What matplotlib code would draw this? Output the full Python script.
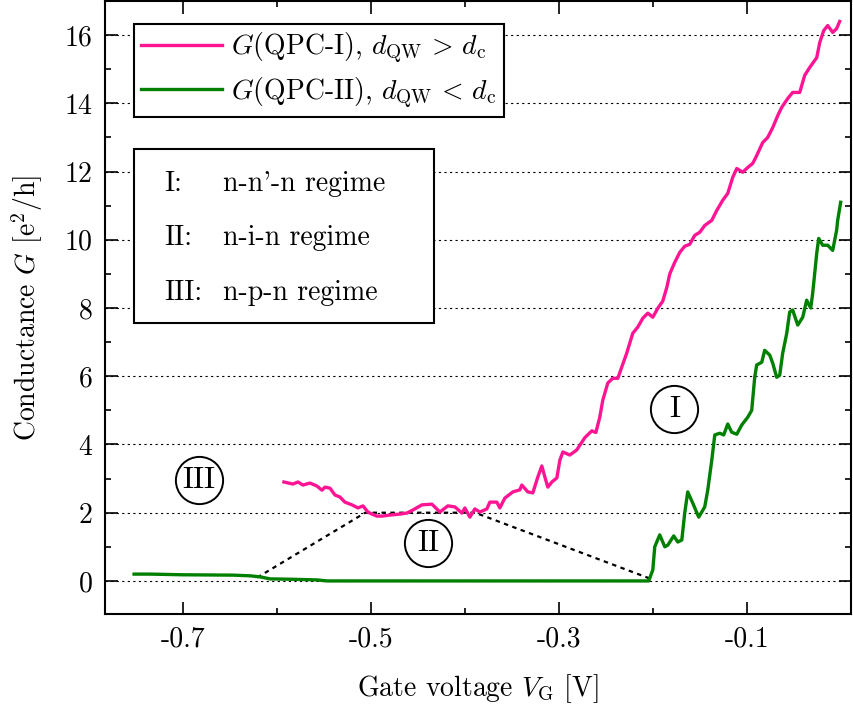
import matplotlib
matplotlib.use("Agg")
import matplotlib.pyplot as plt
from matplotlib.ticker import FixedLocator, FixedFormatter
from matplotlib.patches import Rectangle

plt.rcParams['font.family'] = 'serif'
plt.rcParams['font.serif'] = ['cmr10', 'DejaVu Serif']
plt.rcParams['mathtext.fontset'] = 'cm'
plt.rcParams['axes.unicode_minus'] = False

# QPC-I (pink)
vg_1 = [-0.5926, -0.583, -0.5777, -0.5723, -0.5649, -0.5574, -0.5521, -0.5489, -0.5436, -0.5383,
        -0.5330, -0.5277, -0.5202, -0.5138, -0.5085, -0.5032, -0.4989, -0.4936, -0.4883, -0.4798,
        -0.4691, -0.4617, -0.4553, -0.4457, -0.4351, -0.4266, -0.4181, -0.4106, -0.4032, -0.4000,
        -0.3947, -0.3894, -0.3840, -0.3766, -0.3734, -0.3660, -0.3628, -0.3574, -0.3489, -0.3415,
        -0.3394, -0.3330, -0.3277, -0.3223, -0.3181, -0.3149, -0.3117, -0.3074, -0.3021, -0.2989,
        -0.2957, -0.2883, -0.2809, -0.2723, -0.2649, -0.2606, -0.2564, -0.2532, -0.2479, -0.2426,
        -0.2372, -0.2330, -0.2277, -0.2213, -0.2160, -0.2106, -0.2053, -0.2000, -0.1947, -0.1894,
        -0.1851, -0.1819, -0.1766, -0.1713, -0.1660, -0.1606, -0.1553, -0.1500, -0.1447, -0.1372,
        -0.1319, -0.1255, -0.1202, -0.1149, -0.1106, -0.1043, -0.0989, -0.0936, -0.0894, -0.0830,
        -0.0777, -0.0723, -0.0670, -0.0628, -0.0564, -0.0511, -0.0436, -0.0383, -0.0330, -0.0255,
        -0.0223, -0.0181, -0.0138, -0.0085, -0.0043, -0.0011]
g_1 = [2.90, 2.84, 2.90, 2.81, 2.87, 2.78, 2.66, 2.75, 2.72, 2.52,
       2.46, 2.31, 2.23, 2.14, 2.20, 2.02, 1.96, 1.90, 1.90, 1.93,
       1.96, 1.99, 2.08, 2.23, 2.25, 2.02, 2.20, 2.17, 1.99, 2.14,
       1.87, 2.11, 2.02, 2.11, 2.31, 2.31, 2.14, 2.43, 2.61, 2.67,
       2.81, 2.61, 2.58, 3.05, 3.37, 3.05, 2.75, 2.90, 3.02, 3.54,
       3.78, 3.69, 3.84, 4.20, 4.40, 4.35, 4.80, 5.30, 5.80, 5.94,
       5.94, 6.27, 6.68, 7.26, 7.44, 7.70, 7.85, 7.73, 7.99, 8.20,
       8.60, 9.00, 9.34, 9.63, 9.81, 9.87, 10.13, 10.22, 10.42, 10.57,
       10.86, 11.16, 11.36, 11.83, 12.09, 11.98, 12.12, 12.24, 12.47, 12.85,
       13.00, 13.29, 13.64, 13.88, 14.14, 14.32, 14.32, 14.82, 15.05, 15.34,
       15.78, 16.13, 16.28, 16.08, 16.19, 16.40]

# QPC-II (green)
vg_2 = [-0.7521, -0.7351, -0.7000, -0.6468, -0.6287, -0.6181, -0.6074, -0.5862, -0.5574, -0.5468,
        -0.2043, -0.2000, -0.1979, -0.1926, -0.1872, -0.1840, -0.1777, -0.1734, -0.1691, -0.1660,
        -0.1628, -0.1574, -0.1511, -0.1447, -0.1415, -0.1372, -0.1340, -0.1287, -0.1245, -0.1202,
        -0.1160, -0.1106, -0.1053, -0.0989, -0.0947, -0.0915, -0.0894, -0.0840, -0.0809, -0.0755,
        -0.0723, -0.0681, -0.0649, -0.0617, -0.0574, -0.0543, -0.0511, -0.0457, -0.0404, -0.0362,
        -0.0319, -0.0298, -0.0255, -0.0234, -0.0191, -0.0138, -0.0085, -0.0043, -0.0032, 0.0000]
g_2 = [0.20, 0.20, 0.18, 0.17, 0.15, 0.12, 0.06, 0.05, 0.03, 0.00,
       0.00, 0.32, 1.00, 1.35, 1.00, 1.05, 1.32, 1.14, 1.20, 1.99,
       2.61, 2.28, 1.87, 2.17, 2.66, 3.54, 4.28, 4.33, 4.28, 4.60,
       4.36, 4.30, 4.57, 4.80, 5.00, 5.97, 6.33, 6.41, 6.76, 6.62,
       6.38, 5.97, 6.03, 6.68, 7.26, 7.88, 7.94, 7.50, 7.73, 8.23,
       8.00, 8.43, 9.60, 10.04, 9.84, 9.84, 9.69, 10.28, 10.57, 11.10]

# dashed guide of regime II
guide_x = [-0.621, -0.506, -0.389, -0.204]
guide_y = [0.10, 2.00, 2.00, 0.08]

# circled regime markers
regime_names = ['I', 'II', 'III']
regime_x = [-0.177, -0.439, -0.683]
regime_y = [5.04, 1.11, 2.96]

regime_keys = ['I:', 'II:', 'III:']
regime_text = ["n-n'-n regime", 'n-i-n regime', 'n-p-n regime']

x_major = [-0.7, -0.5, -0.3, -0.1]
x_labels = ['-0.7', '-0.5', '-0.3', '-0.1']
x_minor = [-0.6, -0.4, -0.2]
y_major = [0, 2, 4, 6, 8, 10, 12, 14, 16]
y_minor = [1, 3, 5, 7, 9, 11, 13, 15]

fig = plt.figure(figsize=(8.54, 7.11), dpi=100)
ax = fig.add_axes([0.123, 0.1364, 0.8735, 0.8622])

for y in y_major:
    ax.axhline(y, color='black', ls=(0, (2, 3)), lw=0.8, zorder=1)

ax.plot(guide_x, guide_y, color='black', ls=(0, (2, 2)), lw=1.6, zorder=2)
ax.plot(vg_1, g_1, color='#ff1493', lw=2.4, zorder=3,
        label=r'$G$(QPC-I), $d_{\mathrm{QW}}\,>\,d_{\mathrm{c}}$')
ax.plot(vg_2, g_2, color='#008000', lw=2.4, zorder=3,
        label=r'$G$(QPC-II), $d_{\mathrm{QW}}\,<\,d_{\mathrm{c}}$')

for name, x, y in zip(regime_names, regime_x, regime_y):
    ax.plot(x, y, 'o', ms=34, mfc='white', mec='black', mew=1.4, zorder=4)
    ax.text(x, y, name, ha='center', va='center', fontsize=22, zorder=5)

ax.set_xlim(-0.783, 0.011)
ax.set_ylim(-0.97, 17.0)
ax.xaxis.set_major_locator(FixedLocator(x_major))
ax.xaxis.set_major_formatter(FixedFormatter(x_labels))
ax.xaxis.set_minor_locator(FixedLocator(x_minor))
ax.yaxis.set_major_locator(FixedLocator(y_major))
ax.yaxis.set_minor_locator(FixedLocator(y_minor))
ax.tick_params(which='both', direction='in', top=True, right=True, labelsize=20, width=1.2)
ax.tick_params(which='major', length=9, pad=9)
ax.tick_params(which='minor', length=4)
for sp in ax.spines.values():
    sp.set_linewidth(1.5)

ax.set_xlabel(r'Gate voltage $V_{\mathrm{G}}$ [V]', fontsize=20, labelpad=14)
ax.set_ylabel(r'Conductance $G$ [e$^2$/h]', fontsize=20, labelpad=14)

leg = ax.legend(loc='upper left', bbox_to_anchor=(0.039, 0.9625), borderaxespad=0,
                fontsize=20, fancybox=False, edgecolor='black', framealpha=1,
                handlelength=2.9, handletextpad=0.35, labelspacing=0.35, borderpad=0.25)
leg.get_frame().set_linewidth(1.5)

ax.add_patch(Rectangle((0.039, 0.4747), 0.402, 0.2839, transform=ax.transAxes,
                       fill=True, facecolor='white', edgecolor='black', lw=1.5, zorder=6))
rows_y = [0.7015, 0.6134, 0.5237]
for key, txt, ry in zip(regime_keys, regime_text, rows_y):
    ax.text(0.080, ry, key, transform=ax.transAxes, fontsize=20, va='center', zorder=7)
    ax.text(0.158, ry, txt, transform=ax.transAxes, fontsize=20, va='center', zorder=7)

fig.savefig('out.png', dpi=100)
